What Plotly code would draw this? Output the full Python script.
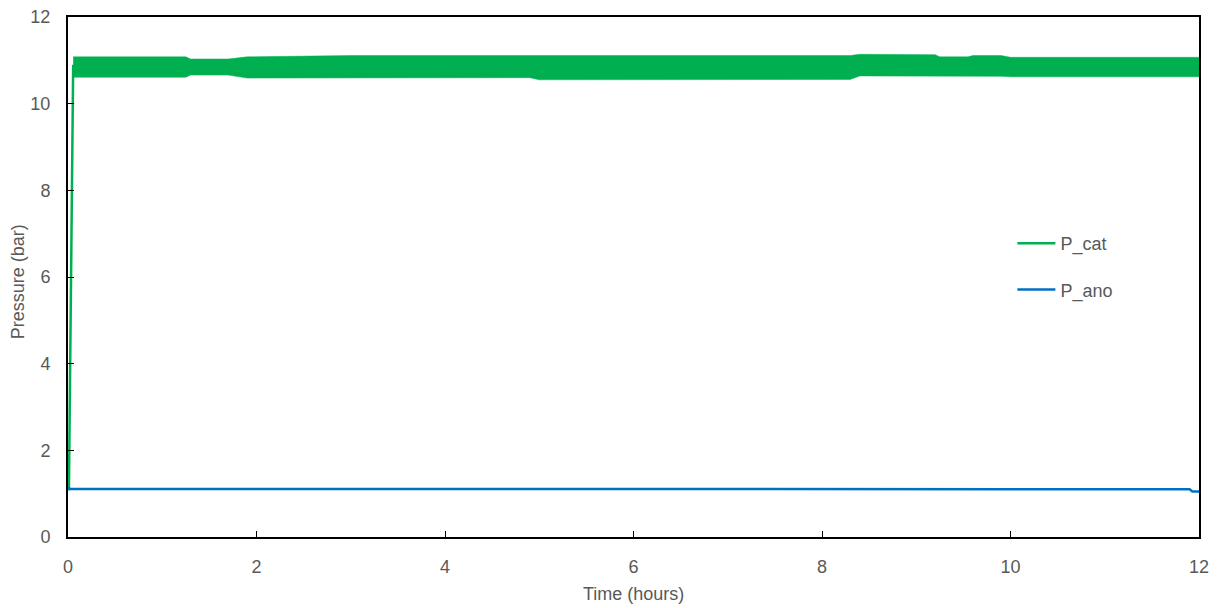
import plotly.graph_objects as go

# P_cat: start-up ramp, then the noisy plateau described by its upper/lower envelope
cat_ramp_t = [0.0, 0.01, 0.055]
cat_ramp_p = [1.10, 1.10, 10.90]
cat_env_t = [0.055, 1.25, 1.30, 1.70, 1.90, 3.00, 4.90, 5.00, 8.30, 8.40, 9.20, 9.25, 9.55, 9.60, 9.90, 10.0, 12.0]
cat_upper = [11.08, 11.08, 11.03, 11.03, 11.08, 11.11, 11.11, 11.11, 11.11, 11.14, 11.13, 11.08, 11.08, 11.11, 11.11, 11.07, 11.07]
cat_lower = [10.61, 10.61, 10.66, 10.66, 10.59, 10.60, 10.60, 10.55, 10.56, 10.64, 10.64, 10.64, 10.64, 10.64, 10.63, 10.62, 10.62]

# P_ano
ano_t = [0.0, 0.02, 6.0, 11.90, 11.93, 11.97, 12.0]
ano_p = [1.15, 1.11, 1.11, 1.10, 1.05, 1.04, 1.05]

x_ticks = [0, 2, 4, 6, 8, 10, 12]
y_ticks = [0, 2, 4, 6, 8, 10, 12]

GREEN = "#00B050"
BLUE = "#0070C0"
GREY = "#595959"
FONT = "Liberation Sans, Arial, sans-serif"

fig = go.Figure()
fig.add_trace(go.Scatter(x=cat_env_t, y=cat_upper, mode="lines",
                         line=dict(color=GREEN, width=0.5), showlegend=False, hoverinfo="skip"))
fig.add_trace(go.Scatter(x=cat_env_t, y=cat_lower, mode="lines", fill="tonexty",
                         fillcolor=GREEN, line=dict(color=GREEN, width=0.5),
                         showlegend=False, hoverinfo="skip"))
fig.add_trace(go.Scatter(x=cat_ramp_t, y=cat_ramp_p, mode="lines", name="P_cat",
                         line=dict(color=GREEN, width=2.5), legendgroup="cat"))
fig.add_trace(go.Scatter(x=ano_t, y=ano_p, mode="lines", name="P_ano",
                         line=dict(color=BLUE, width=2.5), legendgroup="ano"))

axis_common = dict(
    showgrid=False, zeroline=False, showline=True, linecolor="black", linewidth=2,
    mirror=True, ticks="inside", ticklen=6, tickcolor="black", tickwidth=1,
    automargin=False, ticklabeloverflow="allow",
    tickfont=dict(family=FONT, size=18, color=GREY),
)
fig.update_xaxes(range=[0, 12], tickvals=x_ticks, ticklabelstandoff=12, **axis_common)
fig.update_yaxes(range=[0, 12], tickvals=y_ticks, ticklabelstandoff=12, **axis_common)

fig.add_annotation(text="Time (hours)", xref="paper", yref="paper", x=0.5, y=0,
                   yanchor="middle", yshift=-57, showarrow=False,
                   font=dict(family=FONT, size=18, color=GREY))
fig.add_annotation(text="Pressure (bar)", xref="paper", yref="paper", x=0, y=0.49,
                   xanchor="center", xshift=-50, textangle=-90, showarrow=False,
                   font=dict(family=FONT, size=18, color=GREY))

fig.update_layout(
    width=1218, height=608,
    margin=dict(l=68, r=19, t=17, b=71),
    plot_bgcolor="white", paper_bgcolor="white",
    font=dict(family=FONT, color=GREY),
    legend=dict(x=0.835, y=0.6, xanchor="left", yanchor="top", itemwidth=38,
                font=dict(family=FONT, size=18, color=GREY), traceorder="grouped",
                tracegroupgap=20, bgcolor="rgba(0,0,0,0)"),
)
# remove the page's default 8px body margin so the figure sits at the top-left corner
fig.write_html("out.html", config={"displayModeBar": False},
               post_script="document.body.style.margin='0';")
